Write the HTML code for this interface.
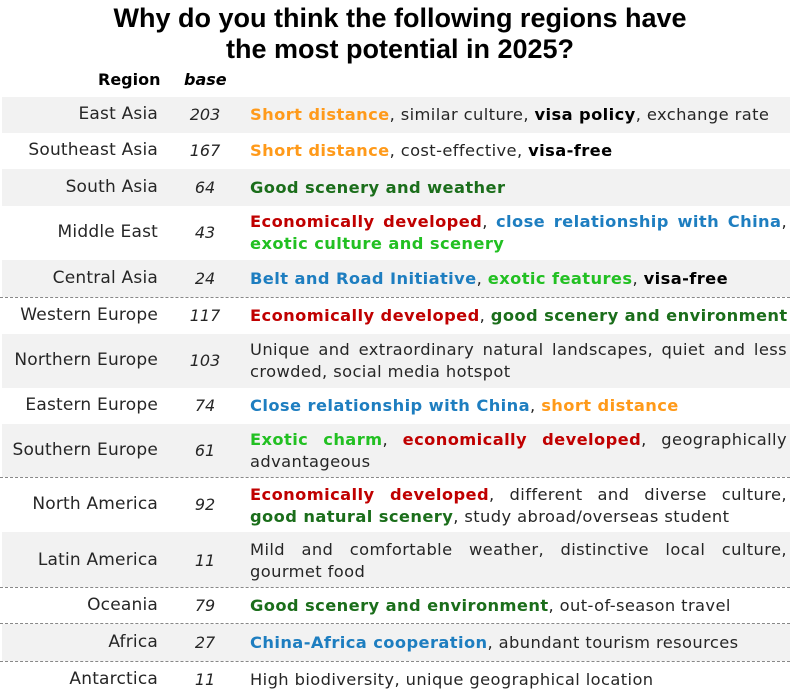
<!DOCTYPE html>
<html><head><style>
body{margin:0;width:800px;height:695px;background:#fff;font-family:"DejaVu Sans","Liberation Sans",sans-serif;color:#262626;position:relative;overflow:hidden}
.t{position:absolute;left:0;width:800px;text-align:center;font-weight:bold;font-size:27px;color:#000;line-height:31px;top:3px;font-family:"Liberation Sans",sans-serif}
.h{position:absolute;top:70px;font-weight:bold;font-size:16px;color:#000}
.r{position:absolute;left:2px;width:788px}
.g{background:#f2f2f2}
.reg{position:absolute;right:632px;font-size:17px;white-space:nowrap;letter-spacing:0.2px}
.b{position:absolute;left:178px;width:50px;text-align:center;font-style:italic;font-size:16px}
.d{position:absolute;left:248px;width:537px;font-size:16.3px;line-height:22px;text-align:justify;text-align-last:left;letter-spacing:0.4px}
.j{text-align:justify;text-align-last:justify;white-space:nowrap}
.dl{position:absolute;left:0;width:790px;border-top:1.5px dashed #888}
.o{color:#ff9a1a;font-weight:bold}.k{color:#000;font-weight:bold}.gr{color:#1b6e1b;font-weight:bold}.rd{color:#c00000;font-weight:bold}.bl{color:#1e7ec0;font-weight:bold}.lg{color:#22c022;font-weight:bold}
</style></head><body>
<div class="t">Why do you think the following regions have<br>the most potential in 2025?</div>
<div class="h" style="left:98px">Region</div>
<div class="h" style="left:184px;font-style:italic">base</div>

<div class="r g" style="top:97px;height:36px"><span class="reg" style="top:7px">East Asia</span><span class="b" style="top:8px">203</span><div class="d" style="top:7px;white-space:nowrap"><span class="o">Short distance</span>, similar culture, <span class="k">visa policy</span>, exchange rate</div></div>
<div class="r" style="top:133px;height:36px"><span class="reg" style="top:7px">Southeast Asia</span><span class="b" style="top:8px">167</span><div class="d" style="top:7px"><span class="o">Short distance</span>, cost-effective, <span class="k">visa-free</span></div></div>
<div class="r g" style="top:169px;height:37px"><span class="reg" style="top:8px">South Asia</span><span class="b" style="top:9px">64</span><div class="d" style="top:8px"><span class="gr">Good scenery and weather</span></div></div>
<div class="r" style="top:206px;height:54px"><span class="reg" style="top:16px">Middle East</span><span class="b" style="top:17px">43</span><div class="d" style="top:5px"><div class="j"><span class="rd">Economically developed</span>, <span class="bl">close relationship with China</span>,</div><span class="lg">exotic culture and scenery</span></div></div>
<div class="r g" style="top:260px;height:37px"><span class="reg" style="top:8px">Central Asia</span><span class="b" style="top:9px">24</span><div class="d" style="top:8px;white-space:nowrap"><span class="bl">Belt and Road Initiative</span>, <span class="lg">exotic features</span>, <span class="k">visa-free</span></div></div>
<div class="dl" style="top:297px"></div>
<div class="r" style="top:298px;height:36px"><span class="reg" style="top:7px">Western Europe</span><span class="b" style="top:8px">117</span><div class="d" style="top:7px;white-space:nowrap"><span class="rd">Economically developed</span>, <span class="gr">good scenery and environment</span></div></div>
<div class="r g" style="top:334px;height:54px"><span class="reg" style="top:16px">Northern Europe</span><span class="b" style="top:17px">103</span><div class="d" style="top:5px">Unique and extraordinary natural landscapes, quiet and less crowded, social media hotspot</div></div>
<div class="r" style="top:388px;height:36px"><span class="reg" style="top:7px">Eastern Europe</span><span class="b" style="top:8px">74</span><div class="d" style="top:7px"><span class="bl">Close relationship with China</span>, <span class="o">short distance</span></div></div>
<div class="r g" style="top:424px;height:53px"><span class="reg" style="top:16px">Southern Europe</span><span class="b" style="top:17px">61</span><div class="d" style="top:5px"><span class="lg">Exotic charm</span>, <span class="rd">economically developed</span>, geographically advantageous</div></div>
<div class="dl" style="top:477px"></div>
<div class="r" style="top:478px;height:54px"><span class="reg" style="top:16px">North America</span><span class="b" style="top:17px">92</span><div class="d" style="top:6px"><div class="j"><span class="rd">Economically developed</span>, different and diverse culture,</div><span class="gr">good natural scenery</span>, study abroad/overseas student</div></div>
<div class="r g" style="top:532px;height:55px"><span class="reg" style="top:18px">Latin America</span><span class="b" style="top:19px">11</span><div class="d" style="top:7px">Mild and comfortable weather, distinctive local culture, gourmet food</div></div>
<div class="dl" style="top:587px"></div>
<div class="r" style="top:588px;height:35px"><span class="reg" style="top:7px">Oceania</span><span class="b" style="top:8px">79</span><div class="d" style="top:7px"><span class="gr">Good scenery and environment</span>, out-of-season travel</div></div>
<div class="dl" style="top:623px"></div>
<div class="r g" style="top:624px;height:37px"><span class="reg" style="top:8px">Africa</span><span class="b" style="top:9px">27</span><div class="d" style="top:8px"><span class="bl">China-Africa cooperation</span>, abundant tourism resources</div></div>
<div class="dl" style="top:661px"></div>
<div class="r" style="top:662px;height:33px"><span class="reg" style="top:7px">Antarctica</span><span class="b" style="top:8px">11</span><div class="d" style="top:7px">High biodiversity, unique geographical location</div></div>
</body></html>
